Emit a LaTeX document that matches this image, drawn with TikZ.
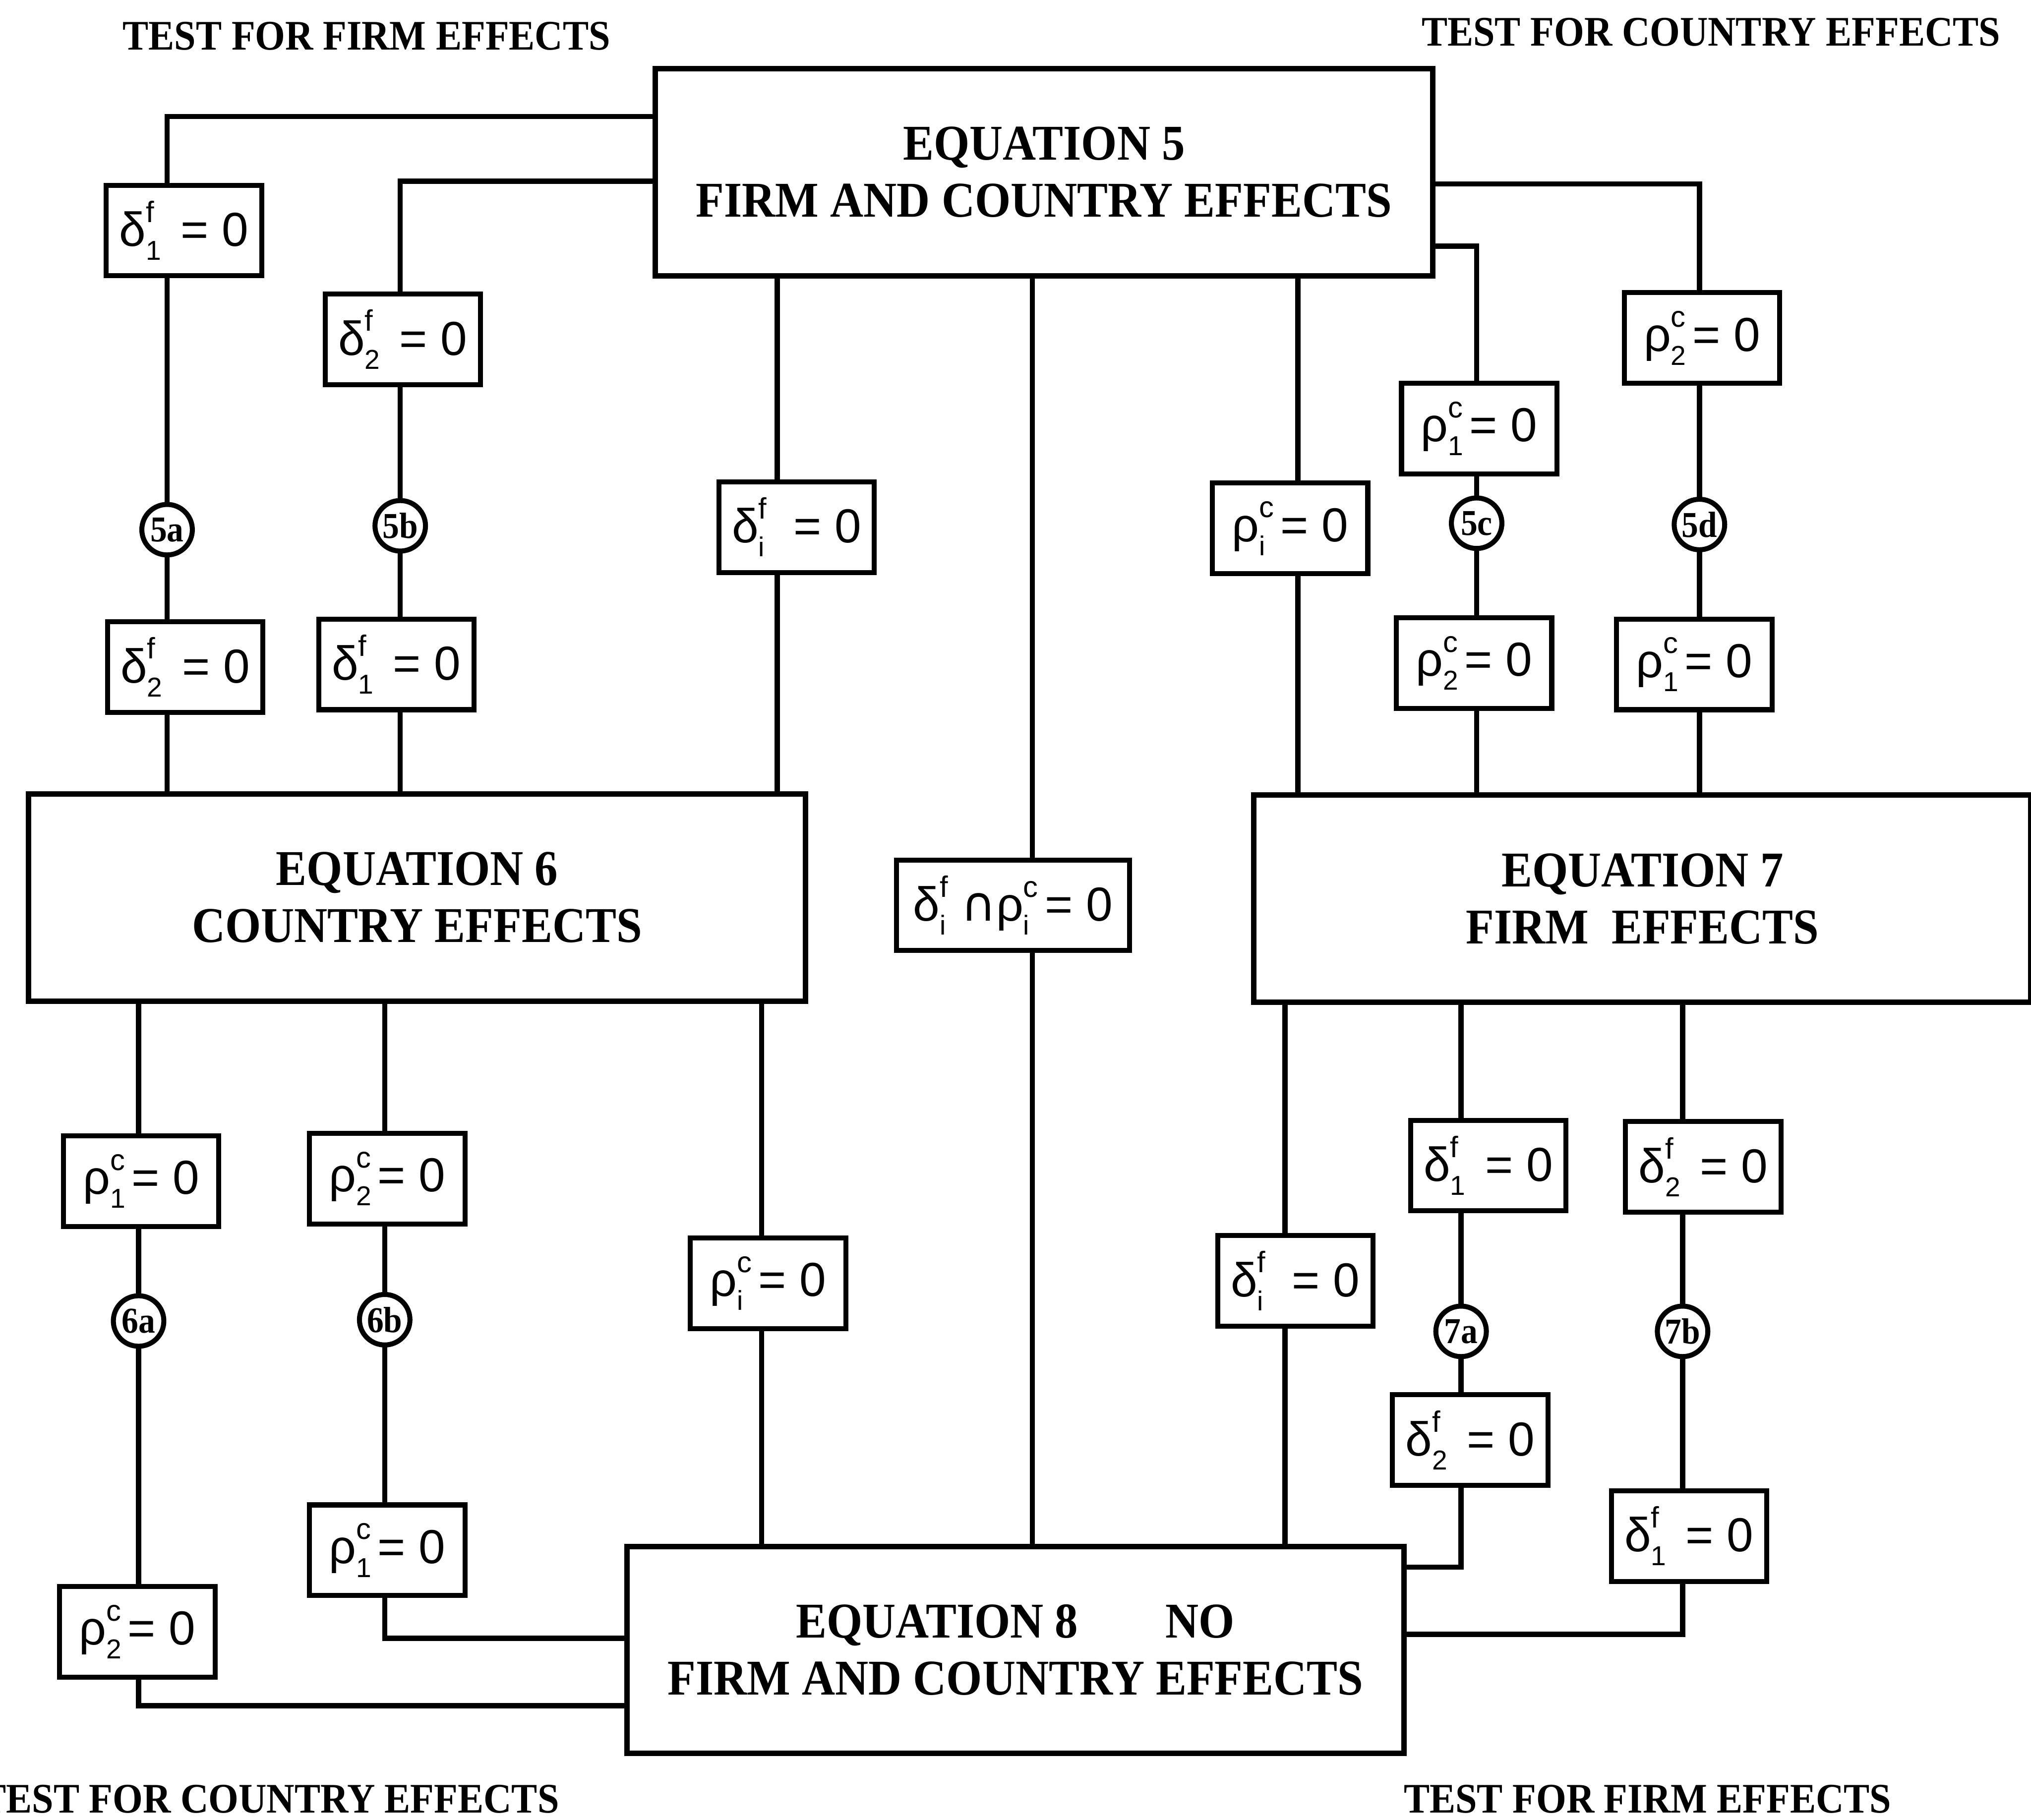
\documentclass[tikz,border=0pt]{standalone}
\usepackage{fontspec}
\setmainfont{Liberation Serif}
\newfontfamily\headfont[FakeStretch=0.92]{Liberation Serif}
\newfontfamily\formfont{Liberation Sans}
\newfontfamily\symfont{DejaVu Sans}
\usetikzlibrary{backgrounds}
\newcommand{\subsz}{\fontsize{12}{12}\selectfont}
\newcommand{\supsz}{\fontsize{13}{13}\selectfont}
\newcommand{\pv}[3]{#1\makebox[0.45em][l]{\raisebox{-0.55ex}{\subsz #2}}\hspace{-0.45em}\makebox[0.45em][l]{\raisebox{0.95ex}{\supsz #3}}}

\begin{document}
\begin{tikzpicture}[
    x=0.02cm, y=-0.02cm,
    eqbox/.style={rectangle, draw, line width=2.4pt, fill=white, minimum width=12cm,
                  minimum height=3.2cm, align=center,
                  font=\headfont\bfseries\fontsize{22}{25}\selectfont},
    cond/.style={rectangle, draw, line width=2.2pt, fill=white, minimum width=2.4cm,
                 minimum height=1.4cm, inner sep=2pt, font=\formfont\fontsize{21}{24}\selectfont},
    tag/.style={circle, draw, line width=2.2pt, fill=white, minimum size=0.78cm, inner sep=0pt,
                font=\headfont\bfseries\fontsize{16}{16}\selectfont},
    heading/.style={inner sep=0pt, font=\headfont\bfseries\fontsize{18.5}{20}\selectfont},
    link/.style={line width=2.3pt}
]
\useasboundingbox (0,0) rectangle (1568,1405);

% headings
\node[heading] (tf1) at (283,28) {TEST FOR FIRM EFFECTS};
\node[heading] (tc1) at (1321,25) {TEST FOR COUNTRY EFFECTS};
\node[heading, anchor=east] (tc2) at (432,1389) {TEST FOR COUNTRY EFFECTS};
\node[heading] (tf2) at (1272,1389) {TEST FOR FIRM EFFECTS};

% equations
\node[eqbox] (eq5) at (806,133) {EQUATION 5\\FIRM AND COUNTRY EFFECTS};
\node[eqbox] (eq6) at (322,693) {EQUATION 6\\COUNTRY EFFECTS};
\node[eqbox] (eq7) at (1268,694) {EQUATION 7\\FIRM\ \ EFFECTS};
\node[eqbox] (eq8) at (784,1274) {EQUATION 8\hspace{1.75em}NO\\FIRM AND COUNTRY EFFECTS};

% firm tests, eq5 -> eq6
\node[cond] (a1) at (142,178) {\pv{δ}{1}{f} = 0};
\node[tag] (t5a) at (129,409) {5a};
\node[cond] (a2) at (143,515) {\pv{δ}{2}{f} = 0};
\node[cond] (b1) at (311,262) {\pv{δ}{2}{f} = 0};
\node[tag] (t5b) at (309,406) {5b};
\node[cond] (b2) at (306,513) {\pv{δ}{1}{f} = 0};
\node[cond] (ci) at (615,407) {\pv{δ}{i}{f} = 0};

% joint test, eq5 -> eq8
\node[cond, minimum width=3.6cm] (jt) at (782,699) {\pv{δ}{i}{f}{\symfont ∩}\pv{ρ}{i}{c}= 0};

% country tests, eq5 -> eq7
\node[cond] (di) at (996,408) {\pv{ρ}{i}{c}= 0};
\node[cond] (e1) at (1142,331) {\pv{ρ}{1}{c}= 0};
\node[tag] (t5c) at (1140,404) {5c};
\node[cond] (e2) at (1138,512) {\pv{ρ}{2}{c}= 0};
\node[cond] (f1) at (1314,261) {\pv{ρ}{2}{c}= 0};
\node[tag] (t5d) at (1312,405) {5d};
\node[cond] (f2) at (1308,513) {\pv{ρ}{1}{c}= 0};

% country tests, eq6 -> eq8
\node[cond] (g1) at (109,912) {\pv{ρ}{1}{c}= 0};
\node[tag] (t6a) at (107,1020) {6a};
\node[cond] (g2) at (106,1260) {\pv{ρ}{2}{c}= 0};
\node[cond] (h1) at (299,910) {\pv{ρ}{2}{c}= 0};
\node[tag] (t6b) at (297,1019) {6b};
\node[cond] (h2) at (299,1197) {\pv{ρ}{1}{c}= 0};
\node[cond] (ki) at (593,991) {\pv{ρ}{i}{c}= 0};

% firm tests, eq7 -> eq8
\node[cond] (li) at (1000,989) {\pv{δ}{i}{f} = 0};
\node[cond] (m1) at (1149,900) {\pv{δ}{1}{f} = 0};
\node[tag] (t7a) at (1128,1028) {7a};
\node[cond] (m2) at (1135,1112) {\pv{δ}{2}{f} = 0};
\node[cond] (n1) at (1315,901) {\pv{δ}{2}{f} = 0};
\node[tag] (t7b) at (1299,1028) {7b};
\node[cond] (n2) at (1304,1186) {\pv{δ}{1}{f} = 0};

% connectors
\begin{scope}[on background layer]
\draw[link] ([yshift=0.86cm]eq5.west) -| (t5a.center) -- (t5a |- eq6.north);
\draw[link] ([yshift=-0.14cm]eq5.west) -| (t5b.center) -- (t5b |- eq6.north);
\draw[link] (eq5.south -| 600,0) -- (eq6.north -| 600,0);
\draw[link] (eq5.south -| 797,0) -- (eq8.north -| 797,0);
\draw[link] (eq5.south -| 1002,0) -- (eq7.north -| 1002,0);
\draw[link] ([yshift=-1.14cm]eq5.east) -| (t5c.center) -- (t5c |- eq7.north);
\draw[link] ([yshift=-0.18cm]eq5.east) -| (t5d.center) -- (t5d |- eq7.north);
\draw[link] (t6a |- eq6.south) -- (t6a.center) |- ([yshift=-0.86cm]eq8.west);
\draw[link] (t6b |- eq6.south) -- (t6b.center) |- ([yshift=0.18cm]eq8.west);
\draw[link] (eq6.south -| 588,0) -- (eq8.north -| 588,0);
\draw[link] (eq7.south -| 992,0) -- (eq8.north -| 992,0);
\draw[link] (t7a |- eq7.south) -- (t7a.center) |- ([yshift=1.28cm]eq8.east);
\draw[link] (t7b |- eq7.south) -- (t7b.center) |- ([yshift=0.24cm]eq8.east);
\end{scope}
\end{tikzpicture}
\end{document}
